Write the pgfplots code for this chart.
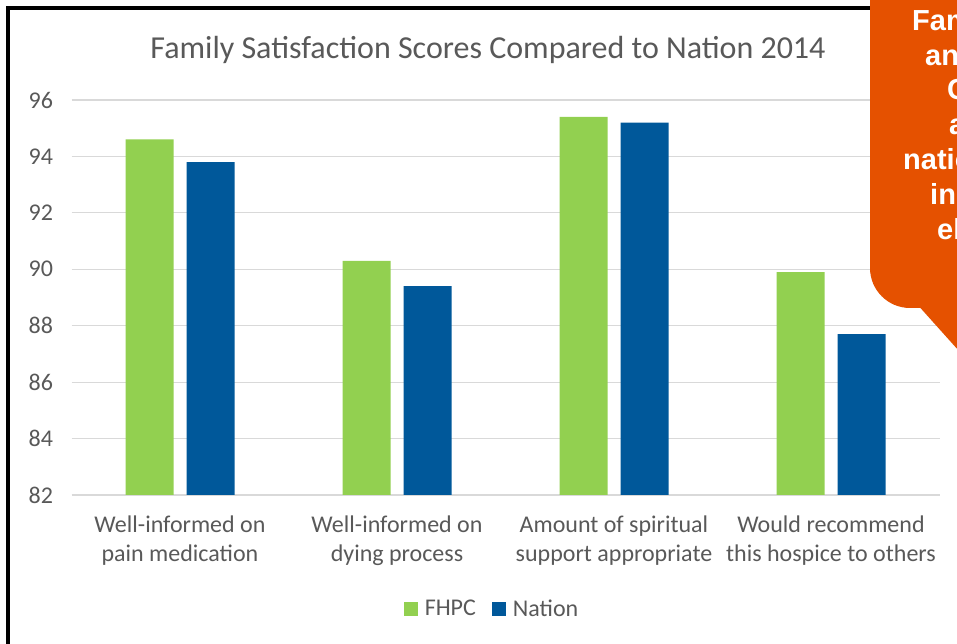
\documentclass[border=0pt]{standalone}
\usepackage{pgfplots}
\pgfplotsset{compat=1.18}
\usepackage{fontspec}
\setmainfont{Carlito}
\newfontfamily\calloutfont{Liberation Sans}
\definecolor{txt}{HTML}{595959}
\definecolor{gridc}{HTML}{D9D9D9}
\definecolor{fhpc}{HTML}{92D050}
\definecolor{nation}{HTML}{00589A}
\definecolor{callout}{HTML}{E55100}
\begin{document}
\begin{tikzpicture}[x=1pt,y=1pt]
\useasboundingbox (0,0) rectangle (957,644);
\clip (0,0) rectangle (957,644);
\fill[white] (0,0) rectangle (957,644);
\draw[line width=3.5pt] (8,636) rectangle (1100,-50);
\begin{axis}[
  at={(71.5pt,149pt)}, anchor=south west,
  scale only axis, width=868pt, height=395pt,
  xmin=-0.5, xmax=3.5, ymin=82, ymax=96,
  ytick={82,84,...,96},
  xtick={0,1,2,3},
  xticklabels={{Well-informed on\\pain medication},{Well-informed on\\dying process},{Amount of spiritual\\support appropriate},{Would recommend\\this hospice to others}},
  axis line style={draw=none},
  major tick length=0pt,
  ymajorgrids,
  grid style={gridc, line width=1.2pt},
  /pgf/number format/assume math mode=true,
  tick label style={font=\fontsize{24}{29}\selectfont, text=txt},
  xticklabel style={align=center, yshift=-17pt},
  yticklabel style={xshift=-15pt},
  legend columns=2,
  legend style={draw=none, fill=none, at={(0.4845,-0.288)}, anchor=center,
    font=\fontsize{24}{26}\selectfont, text=txt,
    /tikz/every even column/.append style={column sep=14pt}},
  legend image code/.code={\fill[#1] (0pt,-7pt) rectangle (14pt,7pt); \path (19pt,0pt);},
]
\addplot[ybar, bar width=48pt, bar shift=-30.5pt, fill=fhpc, draw=none] coordinates {(0,94.6) (1,90.3) (2,95.4) (3,89.9)};
\addlegendentry{FHPC}
\addplot[ybar, bar width=48pt, bar shift=30.5pt, fill=nation, draw=none] coordinates {(0,93.8) (1,89.4) (2,95.2) (3,87.7)};
\addlegendentry{Nation}
\end{axis}
\node[font=\fontsize{32}{36}\selectfont, text=txt, anchor=base] at (488,585) {Family Satisfaction Scores Compared to Nation 2014};
% callout
\fill[callout, rounded corners=40pt] (870,336) rectangle (1150,680);
\fill[callout] (915,340) -- (920,336.5) -- (985,264) -- (1010,340) -- cycle;
\begin{scope}[font=\calloutfont\bfseries\fontsize{29}{34}\selectfont, text=white]
\node[anchor=base west, inner sep=0pt] at (912,613) {Families};
\node[anchor=base west, inner sep=0pt] at (925,578.5) {and caregivers};
\node[anchor=base west, inner sep=0pt] at (947,544) {Continue};
\node[anchor=base west, inner sep=0pt] at (949,509) {above};
\node[anchor=base west, inner sep=0pt] at (903,474) {national average};
\node[anchor=base west, inner sep=0pt] at (930,439) {in all};
\node[anchor=base west, inner sep=0pt] at (937,404) {elements};
\end{scope}
\end{tikzpicture}
\end{document}
